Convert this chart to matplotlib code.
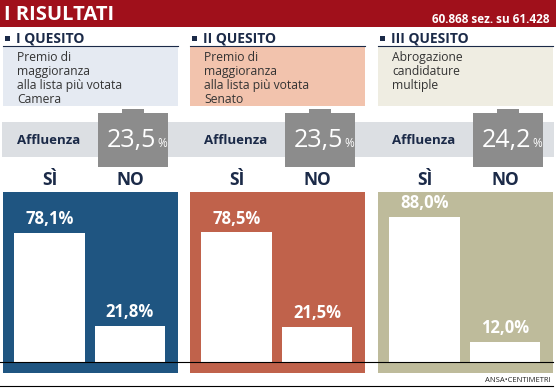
import matplotlib.pyplot as plt
from matplotlib.patches import Rectangle
from matplotlib.lines import Line2D

plt.rcParams['font.family'] = ['Open Sans', 'DejaVu Sans']

RED = "#a0101b"
NAVY = "#1b2a48"
GREY_BOX = "#8c8c8c"
BAND = "#dcdfe3"

quesiti = ["I QUESITO", "II QUESITO", "III QUESITO"]
descrizioni = ["Premio di\nmaggioranza\nalla lista più votata\nCamera",
               "Premio di\nmaggioranza\nalla lista più votata\nSenato",
               "Abrogazione\ncandidature\nmultiple"]
affluenza = [23.5, 23.5, 24.2]
si = [78.1, 78.5, 88.0]
no = [21.8, 21.5, 12.0]
categorie = ["SÌ", "NO"]

panel_col = ["#1f5581", "#c0624b", "#bebb9b"]
box_col = ["#e5eaf2", "#f2c3ad", "#efede2"]
lefts = [3, 190, 378]
PW = 175

def fmt(v):
    return f"{v:.1f}".replace(".", ",")

W, H = 556, 389
fig = plt.figure(figsize=(W / 100, H / 100), dpi=100)
ax = fig.add_axes([0, 0, 1, 1])
ax.set_xlim(0, W)
ax.set_ylim(H, 0)
ax.axis("off")

# header
ax.add_patch(Rectangle((0, 0), W, 27, color=RED, lw=0))
ax.text(4, 20, "I RISULTATI", color="white", fontsize=14.5, fontweight="bold")
ax.text(549, 23, "60.868 sez. su 61.428", color="white", fontsize=8.5,
        fontweight="bold", ha="right")

# affluenza band
ax.add_patch(Rectangle((2, 122), 552, 35, color=BAND, lw=0))

for i, x0 in enumerate(lefts):
    # title
    ax.add_patch(Rectangle((x0 + 2, 36), 5, 5, color=NAVY, lw=0))
    ax.text(x0 + 13, 42, quesiti[i], color=NAVY, fontsize=10, fontweight="bold")
    # description box
    ax.add_patch(Rectangle((x0, 46), PW, 60, color=box_col[i], lw=0))
    ax.plot([x0, x0 + PW], [46, 46], color=NAVY, lw=0.8)
    for k, line in enumerate(descrizioni[i].split("\n")):
        ax.text(x0 + 14, 61 + 14 * k, line, color="#333333", fontsize=8.7)
    # affluenza
    ax.text(x0 + 14, 140, "Affluenza", color=NAVY, fontsize=9.5,
            fontweight="bold", va="center")
    bx = x0 + 95
    ax.add_patch(Rectangle((bx, 113), 70, 54, color=GREY_BOX, lw=0))
    ax.add_patch(Rectangle((bx + 24, 109), 22, 5, color=GREY_BOX, lw=0))
    t = ax.text(bx + 9, 147, fmt(affluenza[i]), color="white", fontsize=18)
    ax.annotate("%", xy=(1, 0), xycoords=t, xytext=(0.5, 2.5),
                textcoords="offset points", color="white", fontsize=8.5,
                va="bottom")
    # SI / NO labels
    for j, c in enumerate(categorie):
        ax.text(x0 + 47 + 80.5 * j, 180, c, color=NAVY, fontsize=12.5,
                fontweight="bold", ha="center", va="center")

    # bar chart
    bax = fig.add_axes([x0 / W, (H - 373) / H, PW / W, 181 / H])
    bax.set_facecolor(panel_col[i])
    vals = [si[i], no[i]]
    bars = bax.bar([0, 1], vals, width=0.88, color="white")
    bax.set_xlim(-0.578, 1.596)
    bax.set_ylim(-11 / 1.65, 170 / 1.65)
    for b, v in zip(bars, vals):
        bax.annotate(fmt(v) + "%", (b.get_x() + b.get_width() / 2, v),
                     xytext=(0, 3.5), textcoords="offset points",
                     ha="center", va="bottom", color="white",
                     fontsize=12, fontweight="bold")
    bax.set_xticks([])
    bax.set_yticks([])
    for s in bax.spines.values():
        s.set_visible(False)

# baselines
fig.add_artist(Line2D([0, 553 / W], [(H - 362) / H] * 2, color="black", lw=0.8))
fig.add_artist(Line2D([0, 553 / W], [(H - 386) / H] * 2, color="black", lw=0.8))
ax.text(551, 382, "ANSA•CENTIMETRI", color="#222222", fontsize=5.5, ha="right")

fig.savefig("out.png", dpi=100)
